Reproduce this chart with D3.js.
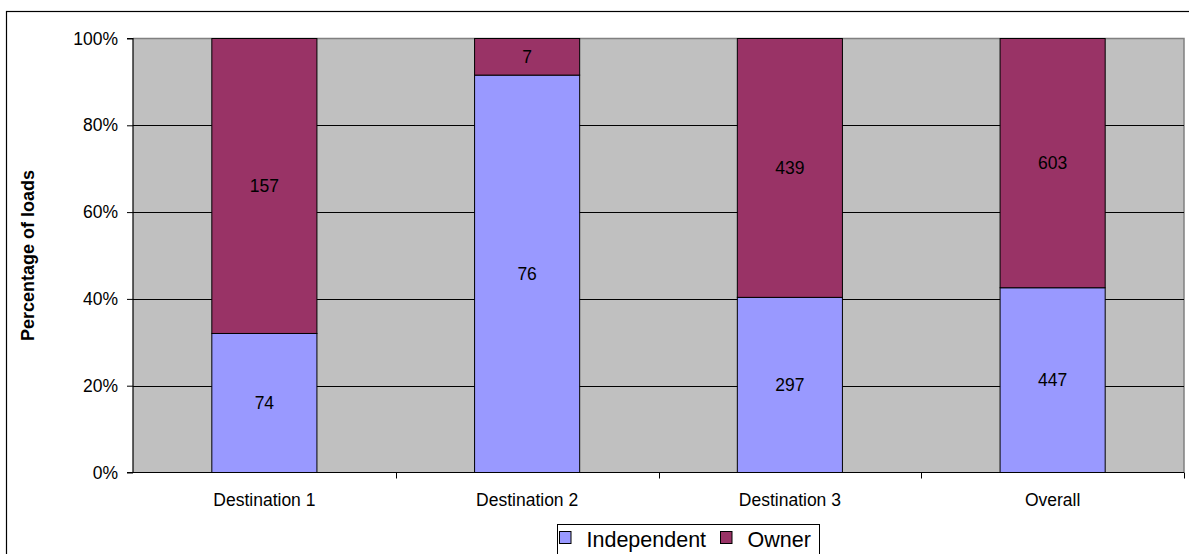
<!DOCTYPE html>
<html><head><meta charset="utf-8">
<script src="https://cdn.jsdelivr.net/npm/d3@7"></script>
<style>
html,body{margin:0;padding:0;background:#fff;}
svg{display:block;font-family:Arial,"Liberation Sans",sans-serif;}
</style></head>
<body><svg id="chart" width="1189" height="554"></svg>
<script>
const categories = ["Destination 1", "Destination 2", "Destination 3", "Overall"];
const independent = [74, 76, 297, 447];
const owner = [157, 7, 439, 603];
const seriesNames = ["Independent", "Owner"];
const seriesColors = ["#9999FF", "#993366"];
const yTicks = [0, 0.2, 0.4, 0.6, 0.8, 1];

const svg = d3.select("#chart");
const L = 133, R = 1184, T = 38.5, B = 472.5;

// outer border
svg.append("rect").attr("x", 6.5).attr("y", 11.5).attr("width", 1200).attr("height", 600)
  .attr("fill", "#fff").attr("stroke", "#000").attr("stroke-width", 1.2);

const x = d3.scaleBand().domain(categories).range([L, R]).paddingInner(0.6).paddingOuter(0.3);
const xb = d3.scaleBand().domain(categories).range([L, R]).padding(0);
const y = d3.scaleLinear().domain([0, 1]).range([B, T]);

// plot background
svg.append("rect").attr("x", L).attr("y", T).attr("width", R - L).attr("height", B - T)
  .attr("fill", "#C0C0C0");
// plot border top/right gray
svg.append("path").attr("d", `M${L},${T}H${R}V${B}`).attr("fill", "none")
  .attr("stroke", "#808080").attr("stroke-width", 1.5);

// gridlines
svg.append("g").selectAll("line").data(yTicks.filter(t => t > 0 && t < 1)).join("line")
  .attr("x1", L).attr("x2", R).attr("y1", d => Math.round(y(d)) + 0.5).attr("y2", d => Math.round(y(d)) + 0.5)
  .attr("stroke", "#000").attr("stroke-width", 1);

const data = categories.map((c, i) => {
  const tot = independent[i] + owner[i];
  return { c, vals: [independent[i], owner[i]], fr: [independent[i] / tot, owner[i] / tot] };
});

const segs = [];
data.forEach(d => {
  let acc = 0;
  d.vals.forEach((v, j) => {
    segs.push({ c: d.c, j, v, y0: acc, y1: acc + d.fr[j] });
    acc += d.fr[j];
  });
});

svg.append("g").selectAll("rect").data(segs).join("rect")
  .attr("x", d => x(d.c)).attr("width", x.bandwidth())
  .attr("y", d => y(d.y1)).attr("height", d => y(d.y0) - y(d.y1))
  .attr("fill", d => seriesColors[d.j]).attr("stroke", "#000").attr("stroke-width", 1);

svg.append("g").selectAll("text").data(segs).join("text")
  .attr("x", d => x(d.c) + x.bandwidth() / 2)
  .attr("y", d => (y(d.y0) + y(d.y1)) / 2)
  .attr("text-anchor", "middle").attr("dominant-baseline", "central")
  .attr("font-size", "17.5px").attr("fill", "#000")
  .text(d => d.v);

// y axis
const yAxis = d3.axisLeft(y).tickValues(yTicks).tickFormat(d3.format(".0%")).tickSize(6).tickPadding(9);
const gy = svg.append("g").attr("transform", `translate(${L},0)`).call(yAxis);
gy.select(".domain").attr("stroke", "#000").attr("stroke-width", 1.2).attr("d", `M-6,${B}H0V${T}H-6`);
gy.selectAll(".tick line").attr("stroke", "#000");
gy.selectAll("text").attr("font-size", "17.5px").attr("fill", "#000").attr("font-family", "Arial, 'Liberation Sans', sans-serif");

// x axis
const xAxis = d3.axisBottom(xb).tickSize(0).tickPadding(21);
const gx = svg.append("g").attr("transform", `translate(0,${B})`).call(xAxis);
gx.select(".domain").attr("stroke", "#000").attr("stroke-width", 1.2).attr("d", `M${L},0H${R}`);
gx.selectAll("text").attr("font-size", "17.5px").attr("fill", "#000").attr("font-family", "Arial, 'Liberation Sans', sans-serif");
// category boundary ticks
svg.append("g").selectAll("line").data(categories).join("line")
  .attr("x1", d => Math.round(xb(d) + xb.bandwidth()) + 0.5).attr("x2", d => Math.round(xb(d) + xb.bandwidth()) + 0.5)
  .attr("y1", B).attr("y2", B + 6).attr("stroke", "#000").attr("stroke-width", 1);

// y title
svg.append("text").attr("transform", `translate(34,${(T + B) / 2}) rotate(-90)`)
  .attr("text-anchor", "middle").attr("font-size", "18px").attr("font-weight", "bold")
  .text("Percentage of loads");

// legend
const lg = svg.append("g");
lg.append("rect").attr("x", 557.5).attr("y", 524.5).attr("width", 262).attr("height", 40)
  .attr("fill", "#fff").attr("stroke", "#000").attr("stroke-width", 1);
const lx = [559.5, 720.5];
seriesNames.forEach((n, i) => {
  lg.append("rect").attr("x", lx[i]).attr("y", 531.5).attr("width", 11.5).attr("height", 12)
    .attr("fill", seriesColors[i]).attr("stroke", "#000").attr("stroke-width", 1);
  lg.append("text").attr("x", lx[i] + 27).attr("y", 546.5).attr("font-size", "21.5px").text(n);
});
</script></body></html>
